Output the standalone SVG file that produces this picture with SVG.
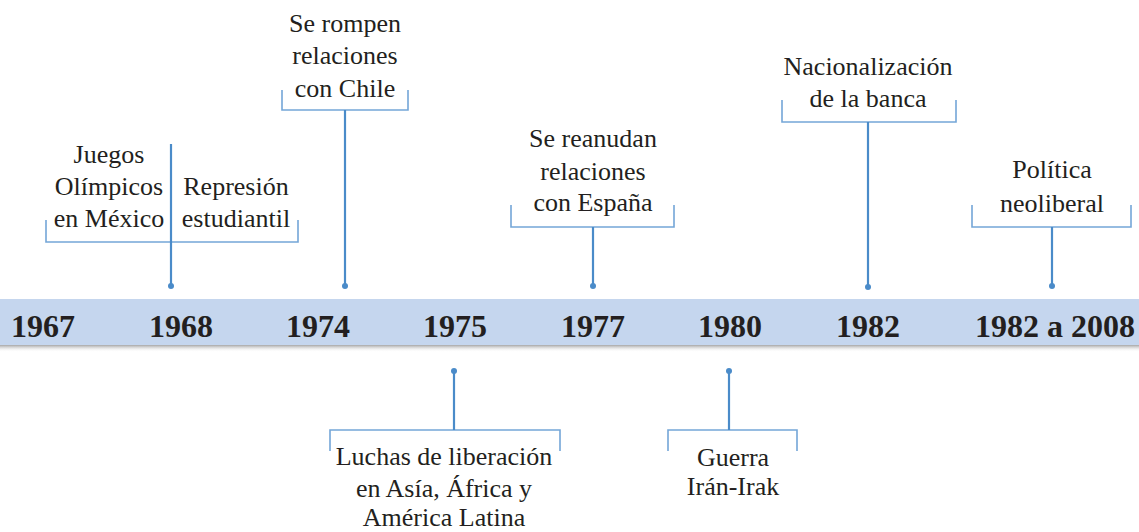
<svg xmlns="http://www.w3.org/2000/svg" width="1139" height="532" viewBox="0 0 1139 532">
<defs>
<linearGradient id="sh" x1="0" y1="0" x2="0" y2="1">
<stop offset="0" stop-color="#8a8a8a"/>
<stop offset="1" stop-color="#ffffff" stop-opacity="0"/>
</linearGradient>
</defs>
<style>
.t{font-family:"Liberation Serif","Times New Roman","DejaVu Serif",serif;font-size:26px;fill:#231f20;text-anchor:middle}
.y{font-family:"Liberation Serif","Times New Roman","DejaVu Serif",serif;font-size:32px;font-weight:bold;fill:#231f20;text-anchor:middle}
.br{fill:none;stroke:#74a6d8;stroke-width:1.6}
.st{fill:none;stroke:#4a8bc9;stroke-width:2.2}
.dot{fill:#4a8bc9}
</style>
<g id="band">
<rect x="0" y="344" width="1139" height="8" fill="url(#sh)"/>
<rect x="0" y="299" width="1139" height="46" fill="#c5d6ee"/>
<text class="y" x="43" y="337">1967</text>
<text class="y" x="181" y="337">1968</text>
<text class="y" x="318" y="337">1974</text>
<text class="y" x="455" y="337">1975</text>
<text class="y" x="593" y="337">1977</text>
<text class="y" x="730" y="337">1980</text>
<text class="y" x="868" y="337">1982</text>
<text class="y" x="1055" y="337">1982 a 2008</text>
</g>
<g id="connectors">
<path class="br" d="M46,220 V242 H298 V220"/>
<path class="st" d="M171,144 V286"/>
<circle class="dot" cx="171" cy="286" r="3"/>
<path class="br" d="M282,90 V110 H408 V90"/>
<path class="st" d="M345,110 V286"/>
<circle class="dot" cx="345" cy="286" r="3"/>
<path class="br" d="M330,451 V430 H560 V451"/>
<path class="st" d="M454,371 V430"/>
<circle class="dot" cx="454" cy="371" r="3"/>
<path class="br" d="M511,205 V227 H674 V205"/>
<path class="st" d="M593,227 V286"/>
<circle class="dot" cx="593" cy="286" r="3"/>
<path class="br" d="M668,451 V430 H797 V451"/>
<path class="st" d="M729,371 V430"/>
<circle class="dot" cx="729" cy="371" r="3"/>
<path class="br" d="M782,100 V122 H956 V100"/>
<path class="st" d="M868,122 V287"/>
<circle class="dot" cx="868" cy="287" r="3"/>
<path class="br" d="M972,205 V227 H1131 V205"/>
<path class="st" d="M1052,227 V286"/>
<circle class="dot" cx="1052" cy="286" r="3"/>
</g>
<g id="n1968a">
<text class="t" x="109" y="163">Juegos</text>
<text class="t" x="109" y="195">Olímpicos</text>
<text class="t" x="109" y="227">en México</text>
</g>
<g id="n1968b">
<text class="t" x="236" y="195">Represión</text>
<text class="t" x="236" y="227">estudiantil</text>
</g>
<g id="n1974">
<text class="t" x="345" y="32">Se rompen</text>
<text class="t" x="345" y="64">relaciones</text>
<text class="t" x="345" y="97">con Chile</text>
</g>
<g id="n1975">
<text class="t" x="444" y="465">Luchas de liberación</text>
<text class="t" x="444" y="497">en Asía, África y</text>
<text class="t" x="444" y="526">América Latina</text>
</g>
<g id="n1977">
<text class="t" x="593" y="147">Se reanudan</text>
<text class="t" x="593" y="180">relaciones</text>
<text class="t" x="593" y="211">con España</text>
</g>
<g id="n1980">
<text class="t" x="733" y="466">Guerra</text>
<text class="t" x="733" y="495">Irán-Irak</text>
</g>
<g id="n1982">
<text class="t" x="868" y="75">Nacionalización</text>
<text class="t" x="868" y="107">de la banca</text>
</g>
<g id="n1982b">
<text class="t" x="1052" y="178">Política</text>
<text class="t" x="1052" y="212">neoliberal</text>
</g>
</svg>
